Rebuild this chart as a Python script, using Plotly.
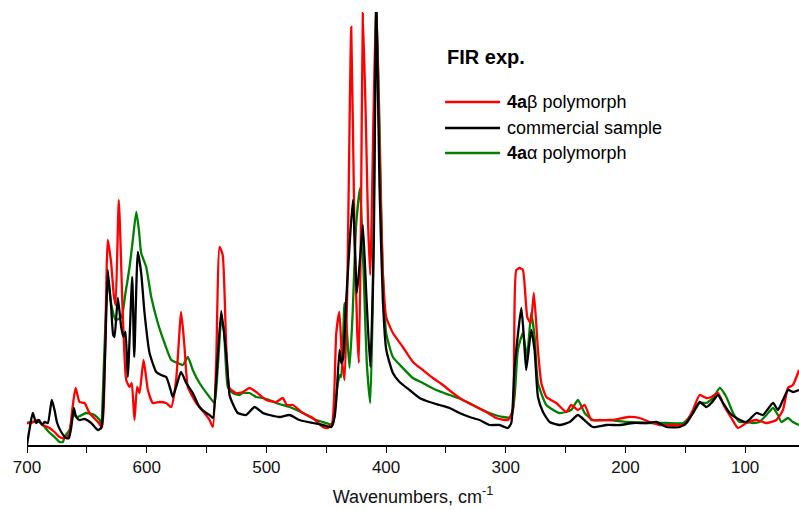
import plotly.graph_objects as go

# ---- data (wavenumber, cm-1 ; intensity, arbitrary units) ----
wn_comm = [700, 698, 695.2, 692.3, 690.1, 687.3, 685.4, 682.6, 679.3, 677, 674.8, 671.4, 667.2, 665, 663, 660.9,
           658.9, 656.1, 652, 646.4, 640.8, 638, 636.7, 634.5, 632.5, 629.7, 628, 626.9, 624.1, 621.3, 619.4,
           617.7, 615.8, 612.1, 610.4, 607.4, 604.6, 601.8, 597.6, 592, 588, 583.7, 580, 578.2, 575.4, 571.3,
           567, 561.5, 555.9, 550.3, 547.5, 544.7, 541.9, 537.7, 533.5, 530.8, 529.4, 523.9, 516.8, 509.9,
           502.9, 497.4, 489, 480.6, 472.3, 461.2, 452.8, 445.8, 443, 441.6, 438.9, 437.5, 436, 433.3, 430.5,
           427.7, 424.4, 421.5, 419.4, 416.5, 413.2, 410.3, 408.2, 405.5, 402.7, 399.8, 394.3, 388.7, 380.4,
           372, 363.7, 355.3, 347, 338.6, 330.2, 321.9, 313.5, 305.2, 298.2, 295.4, 292.6, 287, 285, 282.9,
           278.7, 275.9, 273.1, 268.9, 263.3, 254.9, 246.6, 239.7, 232.6, 227.1, 215.9, 204.8, 193.6, 182.4,
           174.1, 165.7, 154.6, 149, 143.6, 138, 132.4, 128.2, 122.7, 118.5, 112.9, 107.3, 99, 90.6, 85.1,
           76.7, 72.6, 68.4, 64.2, 60.1, 55]
int_comm = [0, 15, 32, 22, 25, 20, 23, 22, 45, 35, 22, 13, 7, 7, 18, 37,
            28, 25, 26, 22, 15, 17, 28, 100, 175, 138, 110, 108, 147, 118, 108,
            113, 68, 168, 88, 193, 172, 132, 92, 73, 70, 68, 55, 48, 58, 73,
            62, 52, 38, 32, 30, 27, 65, 134, 90, 50, 45, 32, 30, 38,
            32, 30, 28, 30, 25, 22, 20, 18, 28, 45, 95, 82, 86, 145, 200,
            245, 152, 190, 220, 150, 78, 200, 445, 260, 145, 95, 72, 63, 55,
            47, 43, 40, 37, 32, 28, 25, 20, 20, 17, 22, 78, 137, 110, 75,
            115, 95, 48, 33, 23, 20, 23, 30, 23, 18, 20, 20, 22, 22,
            23, 18, 18, 22, 32, 43, 38, 42, 50, 42, 32, 27, 23, 32, 30,
            42, 35, 45, 55, 53, 55]

wn_beta = [700, 696.5, 691, 686.8, 681.2, 677, 672.8, 668.7, 665, 662.2, 659.4, 656.1, 651.9, 647.8, 640.8,
           637.2, 635, 632.5, 629.7, 627.5, 626, 623.3, 620, 617.1, 614.3, 612.5, 610.2, 608, 606, 602.6, 599,
           594.9, 589.3, 583.7, 579.5, 575.4, 571.2, 568.4, 565.6, 558.6, 551.7, 547.5, 544.7, 542, 539.1,
           536.5, 533.5, 530.8, 525.2, 519.7, 514.1, 508.5, 500.1, 491.8, 486.2, 483, 477.8, 469.5, 461.2,
           452.8, 448.7, 445, 441.6, 439, 436.8, 434.7, 432.5, 429.1, 426.5, 424, 422.7, 421, 419.4, 417, 415,
           413.2, 410.5, 408.2, 405.5, 403, 399.9, 394.3, 386, 377.6, 369.3, 360.9, 352.5, 344.2, 335.8,
           327.5, 316.3, 308, 298.2, 294.1, 293, 291.2, 288.4, 285.7, 282, 279.2, 276.5, 273.1, 270.3, 266.1,
           257.8, 249.4, 245.3, 239.7, 234.1, 228.5, 221.5, 210.4, 197.9, 188.2, 179.8, 171.4, 160.3, 150.5,
           149, 143.6, 138, 132.4, 128.2, 122.7, 117.1, 111.5, 106, 99, 90.6, 82.2, 73.9, 68.4, 64.2, 60.1, 55]
int_beta = [22, 22, 25, 20, 17, 13, 8, 7, 10, 35, 57, 43, 42, 32, 23,
            18, 80, 205, 182, 150, 140, 245, 132, 65, 58, 62, 25, 58, 52, 85, 55,
            42, 43, 42, 38, 65, 133, 98, 58, 42, 32, 25, 18, 80, 198,
            190, 98, 57, 52, 53, 57, 53, 45, 43, 47, 40, 40, 32, 27,
            18, 17, 22, 112, 133, 85, 65, 150, 418, 220, 110, 82, 220, 432, 330, 220,
            170, 330, 445, 300, 180, 128, 112, 98, 83, 75, 67, 60, 52, 45,
            40, 33, 27, 25, 35, 100, 175, 177, 175, 128, 122, 152, 95, 62, 48,
            42, 33, 40, 35, 40, 25, 25, 25, 28, 27, 23, 20, 20, 20,
            23, 35, 50, 47, 48, 52, 38, 27, 17, 22, 25, 22, 25, 35, 57, 60, 75]

wn_alpha = [700, 696.5, 690, 686.8, 681.7, 677, 672.8, 670, 668.7, 664.5, 661.1, 657.6, 650.5, 643.6, 639.4,
            638, 635.5, 632.5, 629.5, 626, 621, 618, 614.3, 611.6, 608.7, 606.5, 604.6, 600.4, 596.2, 590.7,
            585.1, 579.5, 574, 569.8, 565.6, 561.5, 555.9, 547.5, 543.3, 540.5, 537.7, 535.5, 532.2, 528,
            522.4, 519.7, 514.1, 508.5, 502.9, 497.4, 491.8, 480.6, 469.5, 458.4, 450, 444.6, 442.5, 440.3,
            438.5, 437.5, 434.7, 432.5, 430.5, 428, 425, 421.7, 419, 416, 413.2, 411, 408.2, 405.5, 403,
            399.9, 394.3, 386, 377.6, 369.3, 358.1, 347, 335.8, 324.7, 313.5, 302.4, 295.4, 292.5, 289.9,
            285.7, 282.3, 278.7, 275.9, 273.1, 266.1, 254.9, 245.3, 239.7, 234.1, 227.1, 213.1, 199.2, 182.4,
            165.7, 151.8, 143.6, 138, 132.4, 126.8, 121.2, 115.7, 110.1, 104.6, 99, 93.4, 88, 82.2, 76.7,
            72.6, 69.7, 64.2, 60.1, 55]
int_alpha = [22, 23, 23, 20, 13, 8, 3, 3, 8, 15, 30, 28, 32, 30, 25,
             18, 90, 165, 140, 125, 128, 150, 178, 205, 233, 215, 192, 178, 148, 122,
             102, 85, 82, 80, 88, 75, 62, 48, 42, 80, 125, 115, 58, 52,
             50, 52, 52, 48, 47, 45, 42, 38, 32, 25, 22, 20, 40, 62,
             70, 68, 142, 110, 77, 130, 220, 257, 180, 80, 42, 150, 445, 320, 180,
             112, 88, 77, 67, 62, 55, 50, 45, 38, 32, 28, 28, 50, 95,
             112, 88, 132, 108, 62, 40, 32, 35, 45, 32, 25, 25, 23, 22,
             22, 22, 32, 42, 42, 47, 57, 48, 32, 23, 23, 22, 23, 30, 37,
             30, 23, 27, 23, 20]

legend_title = "<b>FIR exp.</b>"
series_names = ["<b>4a</b>β polymorph", "commercial sample", "<b>4a</b>α polymorph"]
series_colors = ["#ff0000", "#000000", "#008000"]
series_x = [wn_beta, wn_comm, wn_alpha]
series_y = [int_beta, int_comm, int_alpha]

fig = go.Figure()
# draw order: green behind, then red, then black on top
for i in [2, 0, 1]:
    fig.add_trace(go.Scatter(x=series_x[i], y=series_y[i], mode="lines", name=series_names[i],
                             line=dict(color=series_colors[i], width=2.3, shape="spline", smoothing=0.5),
                             showlegend=False))

# manual legend (line samples + labels), placed in paper coordinates
shapes = []
annotations = [dict(text=legend_title, x=0.5415, y=0.8961, xref="paper", yref="paper",
                    xanchor="left", yanchor="middle", showarrow=False, font=dict(size=20))]
leg_y = [0.7921, 0.7321, 0.6744]
for i in range(3):
    shapes.append(dict(type="line", xref="paper", yref="paper", x0=0.5415, x1=0.6127,
                       y0=leg_y[i], y1=leg_y[i], line=dict(color=series_colors[i], width=2.3)))
    annotations.append(dict(text=series_names[i], x=0.6192, y=leg_y[i], xref="paper", yref="paper",
                            xanchor="left", yanchor="middle", showarrow=False, font=dict(size=18)))

fig.update_layout(
    width=799, height=510,
    margin=dict(l=27, r=0, t=12, b=65),
    paper_bgcolor="white", plot_bgcolor="white",
    font=dict(family="Arial, Liberation Sans, sans-serif", size=16, color="#000"),
    showlegend=False,
    shapes=shapes,
    annotations=annotations,
)
fig.update_xaxes(range=[700, 55], dtick=100, tick0=0, ticks="outside", ticklen=6, tickwidth=1.3,
                 tickcolor="#000", showline=True, linecolor="#000", linewidth=1.5, showgrid=False,
                 zeroline=False, tickfont=dict(size=17, color="#111"),
                 minor=dict(dtick=50, ticks="outside", ticklen=6, tickwidth=1.3, tickcolor="#000", showgrid=False),
                 title=dict(text="Wavenumbers, cm<sup>-1</sup>", font=dict(size=18, color="#111"), standoff=14))
fig.update_yaxes(range=[0, 433], visible=False, showgrid=False, zeroline=False)

fig.write_html("out.html")
